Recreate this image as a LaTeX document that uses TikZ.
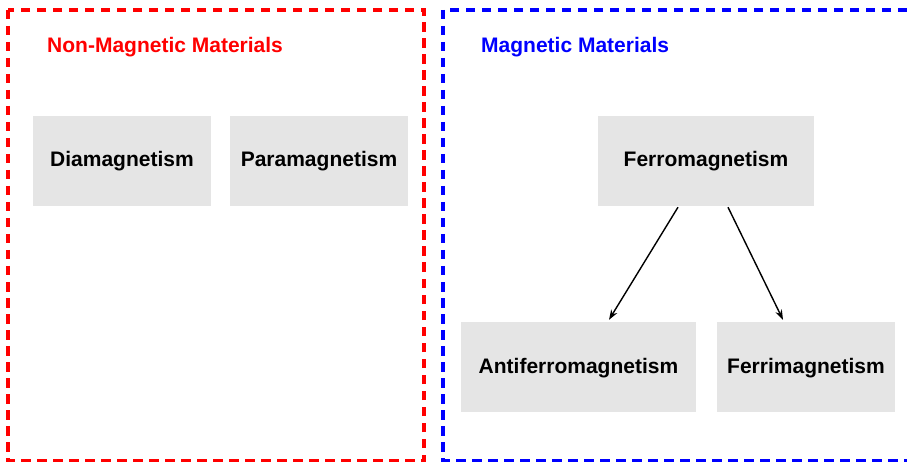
\documentclass[tikz,border=0pt]{standalone}
\usepackage{fontspec}
\setmainfont{Liberation Sans}
\usetikzlibrary{arrows.meta,calc}
\begin{document}
\begin{tikzpicture}[x=1pt,y=-1pt,
  box/.style={fill=black!10,minimum height=90pt,inner sep=0pt,text height=15pt,text depth=3pt,font=\fontsize{21}{24}\selectfont\bfseries},
  frame/.style={line width=3.5pt,dash pattern=on 9.5pt off 6.5pt},
  title/.style={anchor=west,inner sep=0pt,font=\fontsize{21}{24}\selectfont\bfseries},
  arr/.style={line width=1.4pt,-{Stealth[length=10pt,width=7pt]}}]
\useasboundingbox (0,0) rectangle (907,462);
\draw[frame,red] (8,10) rectangle (424,461);
\draw[frame,blue] (443,10) rectangle (912,461);
\node[title,text=red] (t1) at (47,47) {Non-Magnetic Materials};
\node[title,text=blue] (t2) at (481,47) {Magnetic Materials};
\node[box,minimum width=178pt] (dia) at (122,161) {Diamagnetism};
\node[box,minimum width=178pt] (para) at (319,161) {Paramagnetism};
\node[box,minimum width=216pt] (ferro) at (706,161) {Ferromagnetism};
\node[box,minimum width=235pt] (anti) at (578.5,367) {Antiferromagnetism};
\node[box,minimum width=178pt] (ferri) at (806,367) {Ferrimagnetism};
\coordinate (s1) at ($(ferro.south)+(-28,1)$);
\coordinate (s2) at ($(ferro.south)+(22,1)$);
\coordinate (e1) at ($(anti.north)+(30.5,-2)$);
\coordinate (e2) at ($(ferri.north)+(-23,-2)$);
\draw[arr] (s1) -- (e1);
\draw[arr] (s2) -- (e2);
\end{tikzpicture}
\end{document}
